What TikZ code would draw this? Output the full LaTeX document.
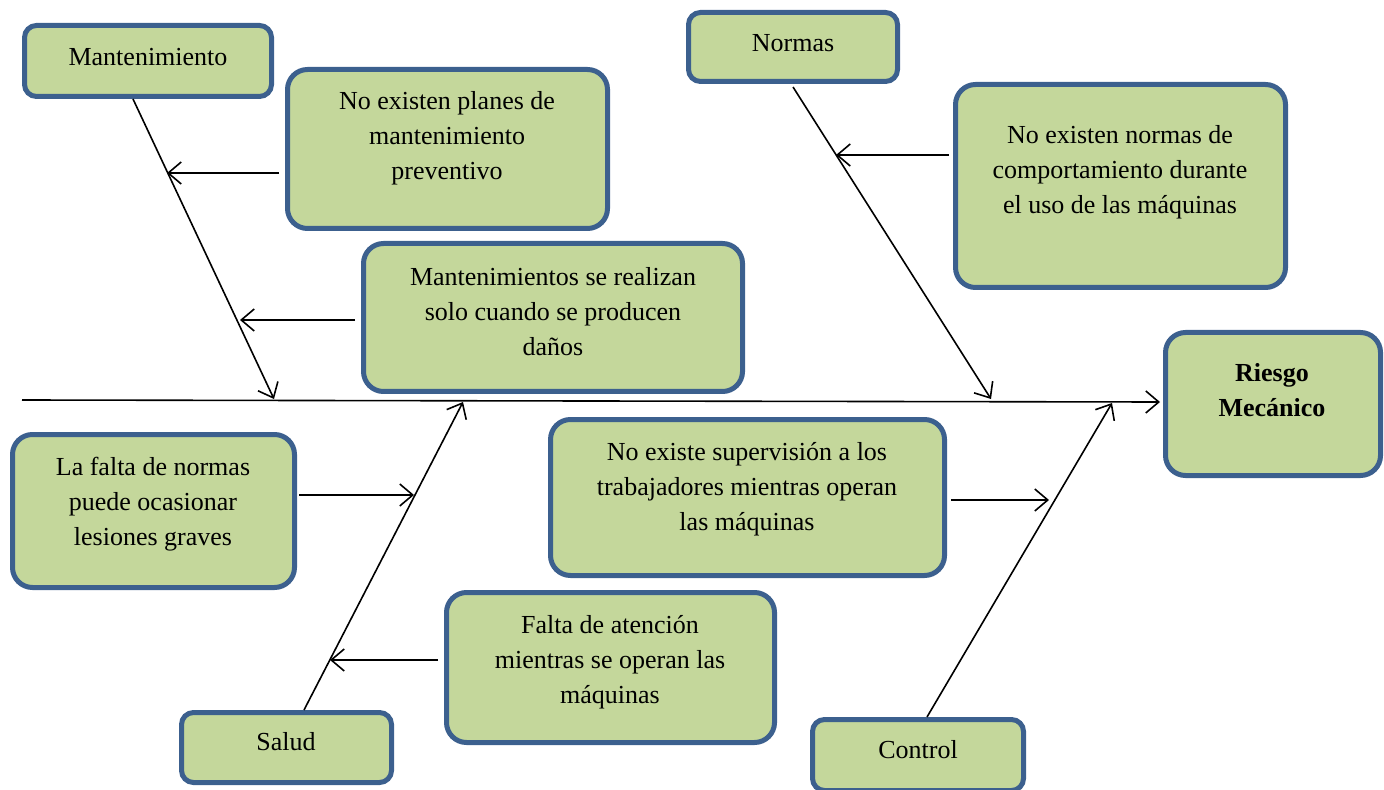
\documentclass[tikz,border=0pt]{standalone}
\usepackage{fontspec}
\setmainfont{Liberation Serif}
\usetikzlibrary{arrows.meta}
\definecolor{boxfill}{RGB}{196,215,155}
\definecolor{boxline}{RGB}{60,96,142}
\newcommand\mkbox[6]{\node[box,#6,minimum width={(#4-#2-5)*0.5pt},minimum height={(#5-#3-5)*0.5pt}] (#1) at ({(#2+#4)/2},{(#3+#5)/2}) {};}
\begin{document}
\begin{tikzpicture}[x=0.5pt,y=-0.5pt,
  box/.style={draw=boxline,line width=2.5pt,fill=boxfill,inner sep=0pt},
  bigr/.style={rounded corners=10pt},
  smallr/.style={rounded corners=6pt},
  lbl/.style={align=center,font=\fontsize{13}{17.5}\selectfont,inner sep=0pt},
  conn/.style={line width=0.8pt,-{Straight Barb[length=6.5pt,width=11pt,line width=0.8pt]}}]
\useasboundingbox (0,0) rectangle (1384,790);
% boxes
\mkbox{mant}{22}{23}{274}{99}{smallr}
\mkbox{planes}{285}{67}{610}{231}{bigr}
\mkbox{realiz}{361}{241}{745}{394}{bigr}
\mkbox{normas}{686}{10}{900}{84}{smallr}
\mkbox{nnormas}{953}{82}{1288}{290}{bigr}
\mkbox{riesgo}{1163}{330}{1383}{478}{bigr}
\mkbox{falta}{10}{432}{297}{590}{bigr}
\mkbox{superv}{548}{417}{947}{578}{bigr}
\mkbox{atenc}{444}{590}{777}{745}{bigr}
\mkbox{salud}{179}{710}{394}{785}{smallr}
\mkbox{control}{810}{717}{1026}{793}{smallr}
% texts
\node[lbl] (tmant) at (148,57) {Mantenimiento};
\node[lbl] (tplanes) at (447,138) {No existen planes de\\mantenimiento\\preventivo};
\node[lbl] (trealiz) at (553,312) {Mantenimientos se realizan\\solo cuando se producen\\daños};
\node[lbl] (tnormas) at (793,43) {Normas};
\node[lbl] (tnnormas) at (1120,172) {No existen normas de\\comportamiento durante\\el uso de las máquinas};
\node[lbl,font=\fontsize{13}{17.5}\selectfont\bfseries] (triesgo) at (1272,390) {Riesgo\\Mecánico};
\node[lbl] (tfalta) at (153,504) {La falta de normas\\puede ocasionar\\lesiones graves};
\node[lbl] (tsuperv) at (747,489) {No existe supervisión a los\\trabajadores mientras operan\\las máquinas};
\node[lbl] (tatenc) at (610,662) {Falta de atención\\mientras se operan las\\máquinas};
\node[lbl] (tsalud) at (286,742) {Salud};
\node[lbl] (tcontrol) at (918,750) {Control};
% coordinates on branches and spine
\coordinate (s0) at (22,400);
\coordinate (s1) at (1160,402);
\coordinate (m2) at (274,399);
\coordinate (m3) at (167,173);
\coordinate (m4) at (240,320);
\coordinate (n2) at (991,399);
\coordinate (n3) at (836,155);
\coordinate (h2) at (463,402);
\coordinate (h3) at (414,495);
\coordinate (h4) at (330,660);
\coordinate (c2) at (1112,403);
\coordinate (c3) at (1049,500);
% spine
\draw[conn] (s0) -- (s1);
% branches
\draw[conn] ([xshift=-7.5pt]mant.south) -- (m2);
\draw[conn] ([xshift=-3pt,yshift=-12pt]planes.west) -- (m3);
\draw[conn] ([xshift=-3pt,yshift=-1.25pt]realiz.west) -- (m4);
\draw[conn] ([yshift=-1.5pt]normas.south) -- (n2);
\draw[conn] ([xshift=-2pt,yshift=15.5pt]nnormas.west) -- (n3);
\draw[conn] ([xshift=8.75pt]salud.north) -- (h2);
\draw[conn] ([xshift=1pt,yshift=8pt]falta.east) -- (h3);
\draw[conn] ([xshift=-3pt,yshift=3.75pt]atenc.west) -- (h4);
\draw[conn] ([xshift=4.5pt]control.north) -- (c2);
\draw[conn] ([xshift=2pt,yshift=-1.25pt]superv.east) -- (c3);
\end{tikzpicture}
\end{document}
